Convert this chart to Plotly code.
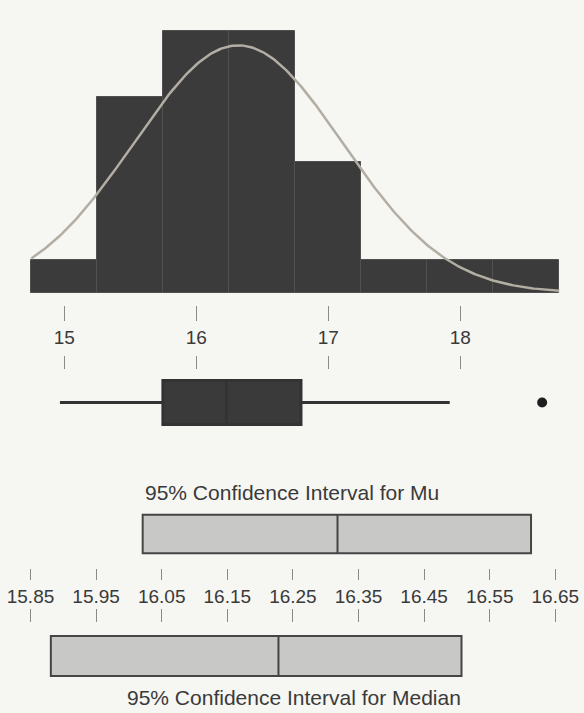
import numpy as np
import plotly.graph_objects as go

# ---------------- data ----------------
bin_left = [14.75, 15.25, 15.75, 16.25, 16.75, 17.25, 17.75, 18.25]
bin_width = 0.5
counts = [1, 6, 8, 8, 4, 1, 1, 1]

n_obs = 30
mean_val = 16.318
sd_val = 0.79

box_q1 = 15.747
box_median = 16.228
box_q3 = 16.793
whisker_low = 14.967
whisker_high = 17.92
outliers = [18.62]

mu_ci = [16.021, 16.613]
median_ci = [15.881, 16.507]

hist_ticks = [15, 16, 17, 18]
ci_ticks = [15.85, 15.95, 16.05, 16.15, 16.25, 16.35, 16.45, 16.55, 16.65]
ci_ticklabels = ["15.85", "15.95", "16.05", "16.15", "16.25", "16.35", "16.45", "16.55", "16.65"]

# ---------------- layout helpers ----------------
W, H = 584, 713
def py(p):
    return 1 - p / H

BG = "#f6f6f3"
FONT = "Liberation Sans, Arial, sans-serif"
TXT = "#3a3a3a"
TICK = "#8a8a8a"

fig = go.Figure()

# histogram bars
centers = [b + bin_width / 2 for b in bin_left]
fig.add_trace(go.Bar(
    x=centers, y=counts, width=[bin_width] * len(counts),
    marker=dict(color="#3b3b3b", line=dict(color="#505050", width=1)),
    xaxis="x", yaxis="y", showlegend=False, hoverinfo="skip"))

# fitted normal curve
xs = np.linspace(bin_left[0], bin_left[-1] + bin_width, 300)
ys = n_obs * bin_width / (sd_val * np.sqrt(2 * np.pi)) * np.exp(-0.5 * ((xs - mean_val) / sd_val) ** 2)
fig.add_trace(go.Scatter(
    x=xs, y=ys, mode="lines", line=dict(color="#b3aea4", width=2.5),
    xaxis="x", yaxis="y", showlegend=False, hoverinfo="skip"))

# boxplot
fig.add_trace(go.Box(
    y=[0], q1=[box_q1], median=[box_median], q3=[box_q3],
    lowerfence=[whisker_low], upperfence=[whisker_high],
    orientation="h", width=1.36, whiskerwidth=0, boxpoints=False,
    fillcolor="#3a3a3a", line=dict(color="#333333", width=3),
    xaxis="x2", yaxis="y2", showlegend=False, hoverinfo="skip"))
fig.add_trace(go.Scatter(
    x=outliers, y=[0] * len(outliers), mode="markers",
    marker=dict(color="#1e1e1e", size=10),
    xaxis="x2", yaxis="y2", showlegend=False, hoverinfo="skip"))

# CI for Mu
fig.add_trace(go.Box(
    y=[0], q1=[mu_ci[0]], median=[mean_val], q3=[mu_ci[1]],
    lowerfence=[mu_ci[0]], upperfence=[mu_ci[1]],
    orientation="h", width=1.13, whiskerwidth=0, boxpoints=False,
    fillcolor="#c8c8c6", line=dict(color="#454545", width=2),
    xaxis="x3", yaxis="y3", showlegend=False, hoverinfo="skip"))

# CI for Median
fig.add_trace(go.Box(
    y=[0], q1=[median_ci[0]], median=[box_median], q3=[median_ci[1]],
    lowerfence=[median_ci[0]], upperfence=[median_ci[1]],
    orientation="h", width=1.21, whiskerwidth=0, boxpoints=False,
    fillcolor="#c8c8c6", line=dict(color="#454545", width=2),
    xaxis="x4", yaxis="y4", showlegend=False, hoverinfo="skip"))

hist_range = [15 - 64.3 / 132, 15 + (W - 64.3) / 132]
ci_range = [15.85 - 30.5 / 656, 15.85 + (W - 30.5) / 656]

tickfont = dict(family=FONT, size=19, color=TXT)
common_x = dict(showgrid=False, zeroline=False, showline=False, ticks="outside",
                tickcolor=TICK, tickwidth=1, tickfont=tickfont, fixedrange=True)
hidden_y = dict(visible=False, showgrid=False, zeroline=False, fixedrange=True)

fig.update_layout(
    width=W, height=H,
    margin=dict(l=0, r=0, t=0, b=0),
    paper_bgcolor=BG, plot_bgcolor=BG,
    bargap=0,
    xaxis=dict(domain=[0, 1], range=hist_range, anchor="y", side="bottom",
               tickvals=hist_ticks, ticktext=[str(t) for t in hist_ticks],
               ticklen=15, **common_x),
    yaxis=dict(domain=[py(305), py(20)], range=[-0.367, 8.35], anchor="x", **hidden_y),
    xaxis2=dict(domain=[0, 1], range=hist_range, anchor="y2", side="top",
                tickvals=hist_ticks, showticklabels=False, ticklen=13, **common_x),
    yaxis2=dict(domain=[py(435), py(370)], range=[-1, 1], anchor="x2", **hidden_y),
    xaxis3=dict(domain=[0, 1], range=ci_range, anchor="y3", side="bottom",
                tickvals=ci_ticks, ticktext=ci_ticklabels, ticklen=11, **common_x),
    yaxis3=dict(domain=[py(568), py(500)], range=[-1, 1], anchor="x3", **hidden_y),
    xaxis4=dict(domain=[0, 1], range=ci_range, anchor="y4", side="top",
                tickvals=ci_ticks, showticklabels=False, ticklen=13, **common_x),
    yaxis4=dict(domain=[py(689), py(623)], range=[-1, 1], anchor="x4", **hidden_y),
    annotations=[
        dict(text="95% Confidence Interval for Mu", x=291.5 / W, y=py(492),
             xref="paper", yref="paper", showarrow=False, xanchor="center", yanchor="middle",
             font=dict(family=FONT, size=21, color=TXT)),
        dict(text="95% Confidence Interval for Median", x=294 / W, y=py(697),
             xref="paper", yref="paper", showarrow=False, xanchor="center", yanchor="middle",
             font=dict(family=FONT, size=21, color=TXT)),
    ],
)

fig.write_html("out.html", config={"displayModeBar": False},
               post_script="document.body.style.margin='0';document.body.style.overflow='hidden';")
